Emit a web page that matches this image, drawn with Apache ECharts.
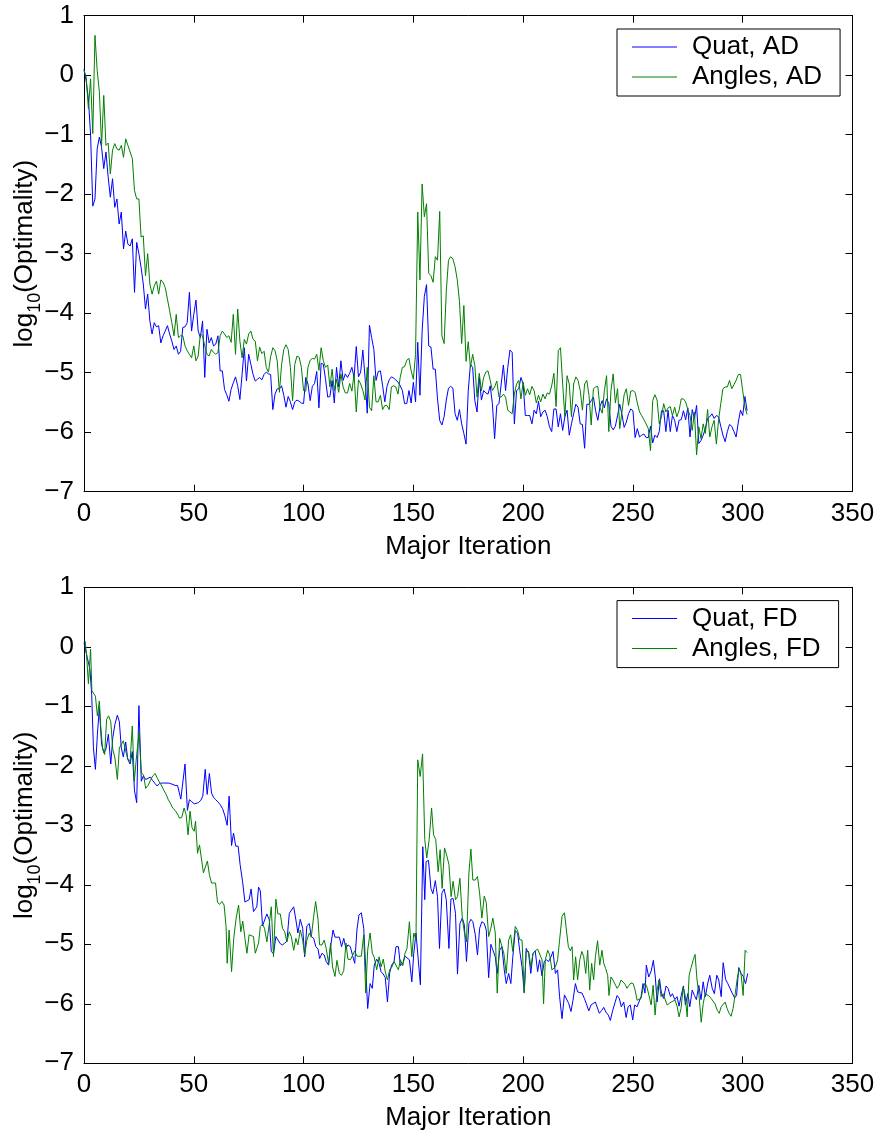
<!DOCTYPE html>
<html>
<head>
<meta charset="utf-8">
<script src="https://cdn.jsdelivr.net/npm/echarts@6/dist/echarts.min.js"></script>
<style>
html,body{margin:0;padding:0;background:#fff;}
#chart{width:881px;height:1138px;}
</style>
</head>
<body>
<div id="chart"></div>
<script>
// ---------------- DATA ----------------
const xTicks = [0, 50, 100, 150, 200, 250, 300, 350];
const yTicks = [-7, -6, -5, -4, -3, -2, -1, 0, 1];
const legendTop = ['Quat, AD', 'Angles, AD'];
const legendBottom = ['Quat, FD', 'Angles, FD'];

// Top panel: one value per major iteration, starting at iteration 0
const quatAD = [
 0.1,-0.1,-0.4,-1.0,-2.2,-2.08,-1.24,-1.04,-1.21,-1.57,
 -1.29,-1.71,-2.05,-1.74,-2.22,-2.08,-2.5,-2.3,-2.92,-2.62,
 -2.84,-2.87,-2.75,-3.65,-2.81,-3.0,-3.23,-3.51,-3.93,-3.68,
 -4.13,-4.35,-4.16,-4.23,-4.21,-4.5,-4.38,-4.3,-4.21,-4.35,
 -4.47,-4.61,-4.55,-4.69,-4.64,-4.24,-4.23,-4.16,-3.65,-4.3,
 -4.02,-3.78,-4.3,-4.41,-4.13,-5.08,-4.27,-4.5,-4.41,-4.55,
 -4.52,-4.38,-4.97,-4.97,-5.28,-5.37,-5.48,-5.28,-5.17,-5.07,
 -5.22,-5.45,-5.03,-4.58,-5.14,-4.69,-4.86,-5.03,-5.14,
 -5.11,-5.08,-5.12,-5.03,-4.99,-5.02,-5.03,-5.62,-5.36,-5.27,
 -5.27,-5.22,-5.38,-5.58,-5.4,-5.49,-5.62,-5.49,-5.46,-5.48,
 -5.51,-5.52,-5.08,-5.19,-5.47,-5.23,-5.18,-4.98,-5.59,-4.84,
 -4.86,-5.11,-5.41,-5.4,-5.13,-5.51,-4.91,-5.24,-4.8,-5.13,
 -5.02,-5.08,-5.01,-4.91,-5.08,-4.56,-5.07,-4.99,-4.62,-5.08,
 -5.68,-4.2,-4.41,-4.61,-5.13,-4.98,-4.97,-5.22,-5.49,-5.23,
 -5.12,-5.07,-5.09,-5.12,-5.16,-5.22,-5.3,-5.52,-5.52,-5.3,
 -5.51,-5.16,-5.49,-4.49,-5.38,-4.3,-3.72,
 -3.52,-4.55,-4.57,-4.94,-4.94,-5.44,-5.8,-5.88,-5.74,-5.46,
 -5.26,-5.23,-5.26,-5.69,-5.8,-5.62,-5.86,-6.02,-6.2,-5.3,
 -4.86,-4.91,-5.47,-5.66,-5.08,-5.46,-5.3,-5.34,-5.36,-5.22,
 -5.52,-6.11,-5.55,-5.52,-5.19,-4.87,-5.3,-4.91,-4.62,-4.66,
 -5.86,-5.3,-5.27,-5.08,-5.19,-5.72,-5.72,-5.72,-5.86,-5.63,
 -5.69,-5.48,-5.74,-5.66,-5.63,-5.74,-5.91,-5.99,-5.61,-5.61,
 -5.91,-5.69,-5.97,-5.74,-5.63,-6.05,-5.86,-5.69,-5.53,-5.58,
 -5.86,-5.87,-6.27,-5.53,-5.53,-5.47,-5.41,
 -5.64,-5.8,-5.57,-5.47,-5.59,-5.44,-5.52,-5.9,-5.96,-5.9,
 -5.72,-5.53,-5.7,-5.92,-5.83,-5.69,-5.61,-5.64,-6.09,-5.94,
 -6.08,-6.05,-6.03,-6.09,-6.09,-5.9,-6.18,-6.05,-6.09,-5.99,
 -5.64,-5.64,-5.99,-5.63,-5.99,-5.72,-5.8,-5.99,-5.8,-5.79,
 -5.64,-5.79,-5.59,-6.08,-5.62,-5.77,-5.55,-6.19,-6.14,-6.05,
 -5.94,-5.77,-5.74,-5.69,-5.77,-5.72,-5.74,-5.9,-6.05,-6.16,
 -5.99,-5.87,-5.9,-5.99,-6.08,-5.83,-5.63,-5.72,-5.4,-5.64
];
const anglesAD = [
 0.08,-0.03,-0.56,-0.06,-0.98,0.67,0.08,-0.28,-1.18,-0.34,
 -1.18,-1.14,-1.66,-1.26,-1.15,-1.24,-1.26,-1.18,-1.38,-1.07,
 -1.18,-1.29,-1.4,-1.94,-2.08,-2.08,-2.72,-2.7,-3.37,-3.0,
 -3.51,-3.68,-3.54,-3.46,-3.68,-3.44,-3.48,-3.57,-3.76,-3.96,
 -4.16,-4.38,-4.02,-4.41,-4.38,-4.38,-4.55,-4.63,-4.69,-4.75,
 -4.55,-4.8,-4.72,-4.35,-4.38,-4.55,-4.69,-4.72,-4.61,-4.66,
 -4.69,-4.66,-4.38,-4.3,-4.35,-4.41,-4.38,-4.49,-4.02,-4.69,
 -3.93,-4.47,-4.75,-4.44,-4.52,-4.35,-4.3,-4.44,-4.47,
 -4.8,-4.57,-4.68,-4.64,-4.91,-4.99,-4.73,-4.58,-4.63,-4.8,
 -5.33,-4.86,-4.61,-4.53,-4.61,-4.91,-5.47,-4.86,-4.72,-4.74,
 -4.91,-5.3,-5.31,-4.91,-4.79,-4.76,-4.77,-4.69,-4.96,-4.58,
 -4.8,-4.91,-4.87,-5.24,-4.94,-5.3,-5.11,-5.33,-5.02,-5.24,
 -5.34,-5.34,-5.18,-5.31,-5.02,-5.66,-5.12,-5.19,-5.3,-5.46,
 -4.91,-5.58,-5.64,-5.05,-5.49,-5.49,-5.38,-5.62,-5.55,-5.55,
 -5.62,-5.24,-5.22,-5.24,-5.36,-5.08,-4.91,-4.9,-4.79,-4.76,
 -4.97,-5.11,-4.69,
 -2.3,
 -3.44,-1.83,-2.38,-2.16,-3.33,-3.37,-3.48,-3.05,-3.11,-2.29,
 -4.38,-4.51,-3.63,-3.11,-3.05,-3.09,-3.22,-3.44,-3.8,-4.51,
 -3.87,-4.81,-4.48,-4.91,-4.69,-4.88,-5.41,-5.01,-5.3,-5.08,
 -4.99,-4.97,-5.13,-5.3,-5.24,-5.14,-5.41,-5.41,-5.36,-5.41,
 -5.63,-5.66,-5.69,-5.36,-5.19,-5.13,-5.44,-5.16,-5.38,-5.27,
 -5.37,-5.23,-5.3,-5.51,-5.38,-5.49,-5.36,-5.44,-5.34,-5.36,
 -5.22,-5.01,-5.57,-4.63,-4.58,-5.19,-5.74,-5.05,-5.19,-5.74,
 -5.19,-5.07,-5.13,-5.3,-5.63,-5.19,-5.13,-5.38,-5.88,-5.27,
 -5.24,-5.23,-5.59,-5.68,-5.3,-5.05,-5.99,-5.3,-5.02,-5.51,
 -5.27,-5.94,-5.66,-5.37,-5.27,-5.55,-5.31,-5.3,-5.33,-5.51,
 -5.66,-5.72,-5.79,-5.86,-5.94,-6.31,-5.47,-5.37,-5.46,-5.86,
 -5.74,-5.52,-5.66,-5.59,-5.57,-5.72,-5.58,-5.74,-5.64,-5.44,
 -5.44,-5.49,-5.62,-5.72,-5.97,-5.66,-6.38,-5.91,-6.11,-5.86,
 -6.02,-5.62,-6.08,-5.91,-5.8,-6.2,-5.8,-5.52,-5.27,-5.24,
 -5.24,-5.13,-5.27,-5.2,-5.13,-5.03,-5.03,-5.3,-5.58,-5.7
];

// Bottom panel: [major iteration, log10(optimality)]
const quatFD = [
 [0,0.07],[1.5,-0.18],[2.7,-0.38],[3.5,-0.8],[4.3,-1.7],[5.2,-2.06],[6.1,-1.47],[7,-1.02],[8,-1.64],[9.1,-1.78],
 [10,-1.72],[11.1,-1.47],[12.2,-1.97],[13.1,-1.53],[14.1,-1.3],[15.2,-1.15],[16.1,-1.26],[17,-1.7],[17.9,-1.85],[19,-1.6],
 [19.9,-1.89],[21,-1.97],[22,-1.76],[23,-2.42],[24,-2.62],[25,-0.99],[26.1,-2.26],[27,-2.17],[28.1,-2.23],[29.2,-2.21],
 [30.2,-2.19],[31.3,-2.25],[32.4,-2.3],[33.3,-2.34],[34.3,-2.3],[35.4,-2.29],[36.5,-2.29],[37.4,-2.29],[38.4,-2.29],[39.5,-2.3],
 [40.4,-2.31],[41.5,-2.33],[42.6,-2.33],[43.5,-2.34],[44.1,-2.56],[45,-2.55],[46,-1.97],[47.1,-2.75],[48,-2.57],[49,-2.6],
 [50.2,-2.64],[51.1,-2.61],[52.1,-2.62],[53.2,-2.58],[54.1,-2.51],[55.2,-2.06],[56.1,-2.48],[57.1,-2.13],[58.1,-2.46],[59,-2.53],
 [60,-2.57],[61.1,-2.61],[62,-2.65],[63.1,-2.72],[64.1,-2.83],[65.2,-3.0],[66.1,-2.51],[67.2,-3.34],[68.1,-3.13],[69.1,-3.35],
 [70.2,-3.35],[71.1,-3.66],[72.2,-3.94],[73.3,-4.29],[74.2,-4.31],[75.2,-4.25],[76.1,-4.07],[77.2,-4.45],[78,-4.42],
 [78.7,-4.37],[79.5,-4.04],[80.3,-4.1],[81.3,-4.69],[82.2,-4.67],[83.3,-4.49],[84.4,-4.59],[85.3,-5.12],[86.3,-5.16],[87.4,-4.87],
 [88.3,-4.84],[89.4,-4.99],[90.4,-5.01],[91.4,-4.98],[92.4,-4.95],[93.5,-4.48],[94.4,-4.48],[95.5,-4.37],[96.5,-4.59],[97.4,-4.81],
 [98.5,-4.58],[99.6,-4.73],[100.5,-5.21],[101.5,-4.69],[102.6,-4.65],[103.5,-4.87],[104.6,-4.9],[105.6,-5.04],[106.6,-5.08],[107.3,-5.24],
 [108.4,-5.15],[109.4,-5.18],[110.3,-5.29],[111.4,-5.35],[112.3,-5.04],[113.4,-4.76],[114.3,-4.88],[115.2,-4.88],[116.3,-4.88],[117.3,-5.04],
 [118.3,-4.9],[119.3,-5.07],[120.2,-5.01],[121.3,-5.04],[122.4,-5.2],[123.3,-5.32],[124.3,-4.76],[125.2,-4.51],[126.3,-4.47],[127.4,-4.73],
 [128.3,-5.4],[129.2,-6.08],[130.3,-5.66],[131.3,-5.74],[132.2,-5.35],[133.3,-5.25],[134.4,-5.32],[135.3,-5.46],[136.3,-5.5],[137.2,-5.56],
 [138.2,-5.97],[139.2,-5.48],[140.1,-5.35],[141.2,-5.29],[142.1,-5.04],[143.2,-5.04],[144.1,-5.36],[145.2,-5.32],[146.2,-5.2],[147.1,-5.2],
 [148.2,-5.26],[149.3,-5.63],[150.2,-5.15],[151.2,-4.81],[152.1,-4.8],[153.2,-5.68],[154.3,-3.36],[155.2,-4.25],
 [155.8,-3.61],[156.9,-3.59],[158,-4.06],[158.9,-4.15],[160,-3.93],[161,-4.2],[161.9,-5.07],[163,-4.14],[164,-4.07],[165,-4.25],
 [166.2,-5.07],[167.1,-4.24],[168.1,-4.23],[169.2,-4.48],[170.1,-5.5],[171.2,-4.65],[172.3,-4.56],[173.2,-4.67],[174.2,-5.29],[175.3,-4.65],
 [176.2,-4.58],[177.1,-4.62],[178.2,-4.84],[179.2,-5.18],[180.2,-4.73],[181.2,-4.62],[182.3,-4.65],[183.2,-4.76],[184.3,-5.56],[185.3,-5.0],
 [186.2,-4.97],[187.3,-5.21],[188.2,-5.49],[189.3,-5.1],[190.3,-5.04],[191.4,-5.43],[192.3,-5.66],[193.4,-5.49],[194.4,-5.66],[195.3,-5.21],
 [196.4,-4.77],[197.5,-4.81],[198.4,-5.1],[199.5,-5.38],[200.5,-5.81],[201.4,-5.07],[202.5,-5.15],[203.5,-5.49],[204.5,-5.15],[205.5,-5.11],
 [206.6,-5.46],[207.5,-5.26],[208.6,-5.53],[209.6,-5.29],[210.6,-5.26],[211.6,-5.29],[212.7,-5.21],[213.6,-5.12],[214.7,-5.49],[215.7,-5.43],
 [216.6,-5.88],[217.7,-6.25],[218.8,-5.85],[219.7,-5.82],[220.7,-5.99],[221.8,-6.13],[222.7,-5.94],[223.8,-5.66],[224.8,-5.8],[225.7,-5.78],
 [226.8,-5.82],[227.9,-5.91],[228.8,-6.0],[229.9,-6.12],[230.9,-6.02],[231.8,-6.0],[232.9,-5.97],
 [233.6,-5.99],[234.7,-6.16],[235.8,-6.11],[236.7,-6.06],[237.7,-6.14],[238.8,-6.19],[239.7,-6.28],[240.8,-6.11],[241.7,-6.08],[242.8,-5.86],
 [243.8,-5.91],[244.7,-6.05],[245.8,-5.97],[246.9,-6.23],[247.8,-6.05],[248.8,-6.02],[249.9,-6.27],[250.8,-6.02],[251.9,-6.05],[252.8,-6.04],
 [253.7,-5.88],[254.6,-5.66],[255.5,-5.82],[256.1,-5.35],[257.2,-5.55],[258.3,-5.45],[259.3,-5.27],[260.2,-5.55],[261,-5.97],[262.1,-5.58],
 [263,-5.83],[264,-5.91],[265.1,-5.7],[266,-5.74],[267.1,-5.88],[268,-5.83],[269.1,-5.93],[270.1,-5.88],[271,-6.04],[272,-5.86],
 [273,-5.7],[273.9,-6.02],[275,-5.83],[275.9,-6.05],[277,-5.77],[278,-5.86],[278.9,-5.93],[280,-5.69],[281,-5.93],[282,-5.63],
 [283,-5.88],[284.1,-5.65],[285,-5.52],[286.1,-5.74],[287.1,-5.83],[288.2,-5.52],[289.1,-5.6],[290.2,-5.88],[291.1,-5.31],[292.2,-5.59],
 [293.2,-5.66],[294.1,-5.67],[295.2,-5.82],[296.3,-5.9],[297.2,-5.86],[298.2,-5.39],[299.3,-5.49],[300.2,-5.54],[301.3,-5.66],[302.3,-5.49]
];
const anglesFD = [
 [0.5,0.1],[1.2,-0.15],[2,-0.62],[3,-0.04],[3.6,-0.74],[4.3,-0.77],[5.2,-0.83],[6.1,-1.16],[7,-0.91],[7.6,-1.33],
 [8.5,-1.72],[9.4,-1.81],[10.3,-1.22],[11.2,-1.16],[12.2,-1.26],[13.1,-1.72],[14.1,-1.87],[15.2,-2.23],[16.1,-1.7],[17,-1.67],
 [17.9,-1.58],[19,-1.75],[19.9,-1.88],[21,-1.93],[22,-1.33],[22.9,-2.26],[24,-1.81],[25.1,-1.44],[26.1,-2.12],[27.1,-2.15],
 [28.1,-2.38],[29.2,-2.33],[30.2,-2.25],[31.3,-2.17],[32.4,-2.13],[33.3,-2.2],[34.3,-2.27],[35.4,-2.34],[36.5,-2.42],[37.4,-2.48],
 [38.4,-2.57],[39.5,-2.64],[40.4,-2.71],[41.5,-2.75],[42.6,-2.81],[43.5,-2.88],[44.5,-2.87],[45.6,-2.71],[46.5,-2.82],[47.4,-3.16],
 [48.3,-2.76],[49.2,-3.04],[50.2,-3.1],[50.8,-2.93],[51.7,-3.47],[52.6,-3.33],[53.5,-3.31],[54.4,-3.8],[55.3,-3.78],[56.2,-3.6],
 [57.1,-3.83],[58.1,-3.97],[59,-3.99],[59.9,-3.97],[60.8,-4.29],[61.7,-4.33],[62.8,-4.28],[63.8,-4.34],[64.7,-4.7],[65.2,-5.32],
 [66.1,-4.76],[67.2,-5.46],[68.2,-4.9],[69.3,-4.56],[70.4,-4.34],[71.4,-4.79],[72.3,-4.61],[73.3,-4.9],[74.2,-5.15],[75.2,-4.84],
 [76.1,-4.84],[77.2,-4.87],[78,-5.15],
 [79.5,-4.98],[80.3,-4.7],[81.3,-4.66],[82.2,-4.73],[83.3,-4.96],[84.4,-4.65],[85.3,-4.37],[86.3,-5.21],[87.4,-4.24],[88.3,-4.49],
 [89.4,-4.49],[90.4,-4.73],[91.4,-4.79],[92.4,-4.96],[93.5,-4.79],[94.4,-4.87],[95.5,-5.1],[96.5,-4.9],[97.4,-5.01],[98.5,-4.76],
 [99.6,-4.93],[100.5,-5.18],[101.5,-4.93],[102.6,-4.81],[103.5,-4.88],[104.6,-4.53],[105.5,-4.28],[106.6,-4.59],[107.3,-5.01],[108.4,-5.01],
 [109.4,-4.93],[110.3,-5.07],[111.4,-5.32],[112.3,-4.98],[113.2,-5.38],[114.3,-5.54],[115.2,-5.27],[116.3,-5.49],[117.3,-5.52],[118.3,-5.44],
 [119.3,-4.98],[120.2,-5.25],[121.3,-5.26],[122.4,-5.18],[123.3,-5.11],[124.3,-5.2],[125.2,-5.21],[126.3,-5.2],[127.4,-4.84],[128.3,-5.82],
 [129.2,-5.1],[130.3,-4.81],[131.3,-5.15],[132.2,-5.22],[133.3,-5.43],[134.4,-5.21],[135.3,-5.38],[136.3,-5.25],[137.2,-5.46],[138.2,-5.6],
 [139.2,-5.43],[140.1,-5.39],[141.2,-5.29],[142.1,-5.32],[143.2,-5.43],[144.1,-5.26],[145.2,-5.36],[146.2,-5.15],[147.1,-5.07],[148.2,-4.62],
 [149.3,-5.21],[150.2,-4.81],[151.2,-4.93],[152,-1.9],
 [153.1,-2.18],[154.2,-1.8],[155.2,-3.24],[156.1,-3.55],[157.2,-3.24],[158.3,-2.71],[159.2,-3.16],[160.2,-3.24],[161.3,-3.78],[162.2,-3.41],
 [163.1,-4.06],[164.2,-3.38],[165.3,-3.52],[166.2,-3.66],[167.2,-4.2],[168.1,-3.94],[169.2,-4.25],[170.1,-4.2],[171.2,-3.89],[172.3,-4.56],
 [173.2,-4.79],[174.2,-4.96],[175.3,-3.8],[176.2,-3.4],[177.1,-3.92],[178.2,-3.92],[179.2,-3.86],[180.2,-4.15],[181.2,-4.56],[182.3,-4.19],
 [183.2,-4.3],[184.3,-4.87],[185.3,-4.73],[186.2,-4.56],[187.3,-4.81],[188.2,-5.82],[189.3,-4.9],[190.2,-4.87],[191.2,-5.15],[192.3,-5.49],
 [193.4,-4.93],[194.3,-4.84],[195.3,-5.12],[196.4,-4.7],[197.5,-4.77],[198.4,-4.92],[199.5,-4.93],[200.5,-5.82],[201.4,-5.12],[202.5,-5.12],
 [203.5,-5.38],[204.5,-5.15],[205.5,-5.11],[206.6,-5.08],[207.5,-5.07],[208.6,-5.26],[209.3,-6.0],[210.1,-5.26],[211.2,-5.1],[212.1,-5.18],
 [213.1,-5.43],[213.9,-5.43],[214.7,-5.38],[215.7,-5.26],[216.6,-4.93],[217.7,-4.53],[218.8,-4.47],[219.7,-4.76],[220.6,-5.04],[221.5,-5.11],
 [222.3,-5.04],[223,-5.6],[223.9,-5.21],[224.8,-5.6],[225.8,-5.26],[226.7,-5.12],[227.6,-5.21],[228.5,-5.49],[229.4,-5.1],[230.3,-5.77],
 [231.2,-5.32],[232.1,-5.6],[232.9,-5.21],
 [233.9,-4.94],[234.9,-5.35],[235.9,-5.1],[236.7,-5.32],[237.6,-5.41],[238.5,-5.52],[239.1,-5.86],[240,-5.55],[240.9,-5.6],[241.8,-5.61],
 [242.8,-5.74],[243.7,-5.69],[244.6,-5.6],[245.5,-5.6],[246.4,-5.67],[247.3,-5.74],[248.2,-5.69],[249.1,-5.65],[250.1,-5.66],[251,-5.77],
 [251.9,-5.94],[252.8,-5.97],[253.7,-5.91],[254.6,-5.74],[255.5,-5.65],[256.4,-5.72],[257.3,-5.86],[258.3,-6.02],[259.2,-5.69],[260.1,-6.19],
 [261,-5.77],[261.9,-5.6],[262.8,-5.88],[263.7,-5.83],[264.6,-5.86],[265.6,-6.02],[266.5,-6.05],[267.4,-5.97],[268.3,-5.99],[269.2,-5.94],
 [270.1,-6.04],[271,-6.22],[271.9,-6.08],[272.9,-5.72],[273.8,-5.86],[274.7,-6.22],[275.6,-5.52],[276.5,-5.39],[277.4,-5.27],[278.3,-5.17],
 [279.2,-5.6],[280.1,-5.86],[281.1,-6.31],[282,-6.0],[282.9,-5.83],[283.8,-5.86],[284.7,-5.87],[285.6,-5.91],[286.5,-5.93],[287.4,-6.0],
 [288.4,-6.11],[289.3,-6.16],[290.2,-6.05],[291.1,-6.02],[292,-5.97],[292.9,-6.08],[293.8,-6.16],[294.7,-6.21],[295.6,-6.08],[296.6,-5.83],
 [297.5,-5.58],[298.4,-5.41],[299.3,-5.52],[300.2,-5.86],[301.1,-5.1],[302,-5.14]
];

// ---------------- CHART ----------------
const FONT = '"Liberation Sans", Arial, Helvetica, sans-serif';
const FS = 26;
const BLUE = '#0000ff';
const GREEN = '#008000';
const chart = echarts.init(document.getElementById('chart'), null, {renderer: 'canvas'});

const gridL = 84, gridW = 768.5, gridH = 476;
const gridTops = [15.7, 587.3];

function minusFmt(v) { return v < 0 ? '\u2212' + Math.abs(v) : String(v); }

function xAx(gi, pos) {
  const main = pos === 'bottom';
  return {
    type: 'value', gridIndex: gi, position: pos,
    min: xTicks[0], max: xTicks[xTicks.length - 1], interval: xTicks[1] - xTicks[0],
    axisLine: {show: true, onZero: false, lineStyle: {color: '#000', width: 1}},
    axisTick: {show: true, inside: true, length: 7, lineStyle: {color: '#000', width: 1}},
    axisLabel: {show: main, margin: 9, color: '#000', fontSize: FS, fontFamily: FONT},
    splitLine: {show: false},
    name: main ? 'Major Iteration' : '',
    nameLocation: 'middle', nameGap: 42, nameMoveOverlap: false,
    nameTextStyle: {color: '#000', fontSize: FS, fontFamily: FONT}
  };
}
function yAx(gi, pos) {
  const main = pos === 'left';
  return {
    type: 'value', gridIndex: gi, position: pos,
    min: yTicks[0], max: yTicks[yTicks.length - 1], interval: yTicks[1] - yTicks[0],
    axisLine: {show: true, onZero: false, lineStyle: {color: '#000', width: 1}},
    axisTick: {show: true, inside: true, length: 7, lineStyle: {color: '#000', width: 1}},
    axisLabel: {show: main, margin: 10, color: '#000', fontSize: FS, fontFamily: FONT, formatter: minusFmt},
    splitLine: {show: false},
    name: main ? '{a|log}{b|10}{a|(Optimality)}' : '',
    nameLocation: 'middle', nameGap: 40, nameRotate: 90, nameMoveOverlap: false,
    nameTextStyle: {
      color: '#000', fontFamily: FONT, fontSize: FS,
      rich: {
        a: {color: '#000', fontFamily: FONT, fontSize: FS, lineHeight: 26, verticalAlign: 'top'},
        b: {color: '#000', fontFamily: FONT, fontSize: 18, lineHeight: 32, verticalAlign: 'bottom'}
      }
    }
  };
}
function legendBox(names, top) {
  return {
    data: names, orient: 'vertical', left: 617, top: top,
    backgroundColor: '#fff', borderColor: '#000', borderWidth: 1, borderRadius: 0,
    padding: [5, 18, 6, 15], itemGap: 4, itemWidth: 45, itemHeight: 1,
    icon: 'rect',
    textStyle: {color: '#000', fontSize: FS, fontFamily: FONT, padding: [0, 0, 0, 10]},
    selectedMode: false
  };
}
function lineSeries(name, data, color, gi) {
  return {
    name: name, type: 'line', data: data, xAxisIndex: gi * 2, yAxisIndex: gi * 2,
    showSymbol: false, symbol: 'none', color: color,
    lineStyle: {color: color, width: 1}, itemStyle: {color: color},
    clip: true, animation: false, silent: true
  };
}

const option = {
  backgroundColor: '#fff',
  animation: false,
  grid: gridTops.map(t => ({left: gridL, top: t, width: gridW, height: gridH, containLabel: false, outerBoundsMode: 'none'})),
  xAxis: [xAx(0, 'bottom'), xAx(0, 'top'), xAx(1, 'bottom'), xAx(1, 'top')],
  yAxis: [yAx(0, 'left'), yAx(0, 'right'), yAx(1, 'left'), yAx(1, 'right')],
  legend: [legendBox(legendTop, 29), legendBox(legendBottom, 600.6)],
  series: [
    lineSeries(legendTop[0], quatAD.map((v, i) => [i, v]), BLUE, 0),
    lineSeries(legendTop[1], anglesAD.map((v, i) => [i, v]), GREEN, 0),
    lineSeries(legendBottom[0], quatFD, BLUE, 1),
    lineSeries(legendBottom[1], anglesFD, GREEN, 1)
  ]
};
chart.setOption(option);
</script>
</body>
</html>
